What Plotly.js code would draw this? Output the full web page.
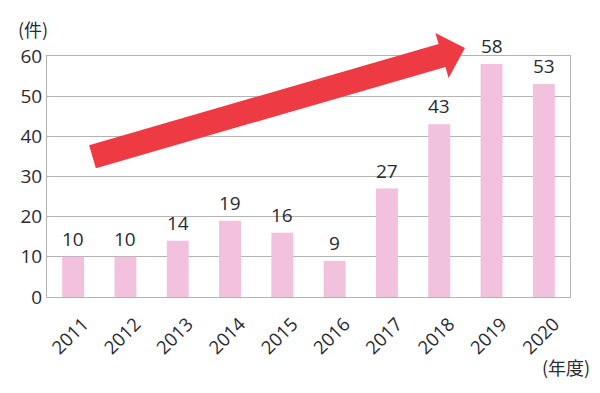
<!DOCTYPE html>
<html>
<head>
<meta charset="utf-8">
<script src="https://cdn.plot.ly/plotly-3.0.1.min.js"></script>
<style>html,body{margin:0;padding:0;background:#fff;}#chart{width:600px;height:393px;}</style>
</head>
<body>
<div id="chart"></div>
<script>
const years = ['2011','2012','2013','2014','2015','2016','2017','2018','2019','2020'];
const counts = [10, 10, 14, 19, 16, 9, 27, 43, 58, 53];
const yTicks = [0, 10, 20, 30, 40, 50, 60];

const font = '"Open Sans", "Noto Sans CJK JP", sans-serif';
const cjkFont = '"Noto Sans CJK JP", sans-serif';
const textColor = '#2a2a33';
const gridColor = '#b3b3b3';

const trace = {
  type: 'bar',
  x: years,
  y: counts,
  marker: {color: '#f2c1dd', line: {width: 0}},
  hoverinfo: 'skip'
};

// value labels placed at each category index (category axis position)
const valueLabels = years.map((yr, i) => ({
  xref: 'x', yref: 'y', x: i, y: counts[i],
  xanchor: 'center', yanchor: 'bottom', yshift: 3,
  text: String(counts[i]), showarrow: false,
  font: {family: font, size: 19, color: textColor}
}));

const layout = {
  width: 600, height: 393,
  margin: {l: 47, r: 30, t: 56, b: 96},
  paper_bgcolor: '#fff', plot_bgcolor: '#fff',
  showlegend: false,
  bargap: 0.58,
  font: {family: font, color: textColor},
  xaxis: {
    type: 'category',
    range: [-0.5, years.length - 0.5],
    autorange: false,
    tickangle: -45,
    tickfont: {family: font, size: 18.5, color: textColor},
    ticklabelstandoff: 8,
    ticklabelshift: 10,
    showline: true, mirror: true, linecolor: gridColor, linewidth: 1,
    ticks: '', showgrid: false, zeroline: false
  },
  yaxis: {
    range: [0, 60],
    autorange: false,
    tickvals: yTicks,
    tickfont: {family: font, size: 19, color: textColor},
    showline: true, mirror: true, linecolor: gridColor, linewidth: 1,
    showgrid: true, gridcolor: gridColor, gridwidth: 1,
    zeroline: false, ticks: ''
  },
  shapes: [{
    type: 'path', xref: 'paper', yref: 'paper', layer: 'above',
    path: 'M 0.0805,0.6299 L 0.7488,1.0498 L 0.7426,1.0959 L 0.7992,1.0332 L 0.7679,0.9083 L 0.7618,0.9544 L 0.0935,0.5344 Z',
    fillcolor: '#ee3a43', line: {width: 0}
  }],
  annotations: valueLabels.concat([
    {xref: 'paper', yref: 'paper', x: -0.059, y: 1.11, xanchor: 'left', yanchor: 'middle',
     text: '(件)', showarrow: false, font: {family: cjkFont, size: 18, color: textColor}},
    {xref: 'paper', yref: 'paper', x: 1.042, y: -0.29, xanchor: 'right', yanchor: 'middle',
     text: '(年度)', showarrow: false, font: {family: cjkFont, size: 18, color: textColor}}
  ])
};

Plotly.newPlot('chart', [trace], layout, {staticPlot: true, displayModeBar: false});
</script>
</body>
</html>
